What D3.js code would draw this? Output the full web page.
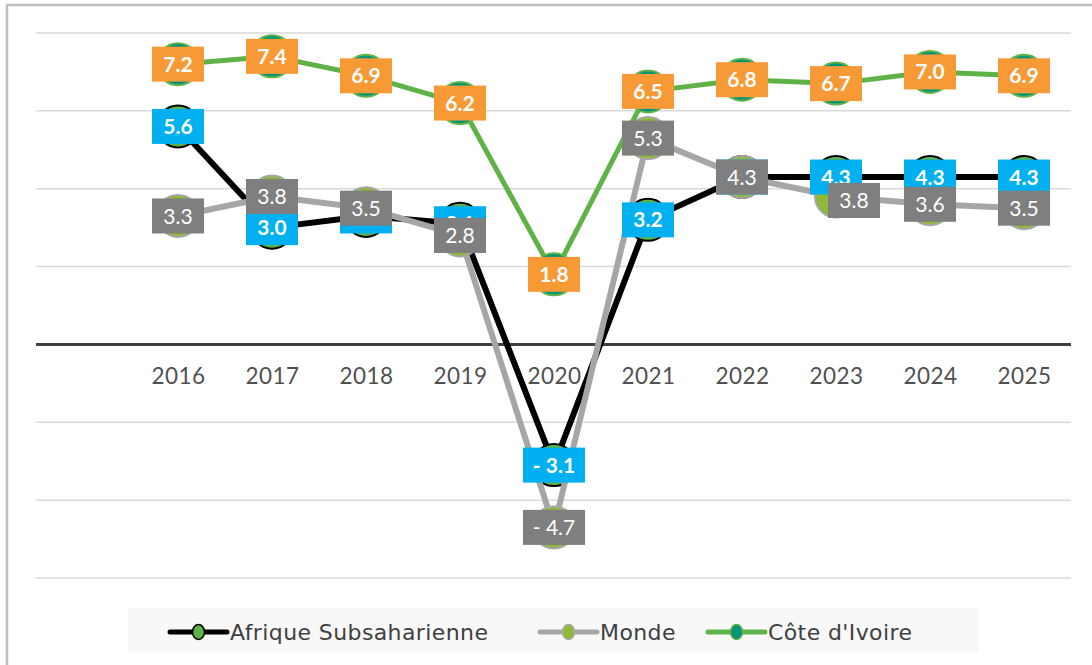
<!DOCTYPE html>
<html lang="fr">
  <head>
    <meta charset="UTF-8" />
    <script src="https://cdn.jsdelivr.net/npm/d3@7/dist/d3.min.js"></script>
    <style>
      body {
        margin: 0;
        background: #ffffff;
      }
      svg {
        display: block;
        font-family: Lato, "Noto Sans", sans-serif;
      }
    </style>
  </head>
  <body>
    <div id="chart"></div>
    <script>
      // data
      const years = ["2016", "2017", "2018", "2019", "2020", "2021", "2022", "2023", "2024", "2025"];
      const ssa = [5.6, 3.0, 3.3, 3.1, -3.1, 3.2, 4.3, 4.3, 4.3, 4.3];
      const monde = [3.3, 3.8, 3.5, 2.8, -4.7, 5.3, 4.3, 3.8, 3.6, 3.5];
      const civ = [7.2, 7.4, 6.9, 6.2, 1.8, 6.5, 6.8, 6.7, 7.0, 6.9];
      const seriesNames = ["Afrique Subsaharienne", "Monde", "Côte d'Ivoire"];
      const yTicks = [-6, -4, -2, 0, 2, 4, 6, 8];

      const width = 1092;
      const height = 665;

      const styles = [
        { line: "#000000", fill: "#5fb346", stroke: "#000000", label: "#00b0f0", bold: true },
        { line: "#a6a6a6", fill: "#8dba38", stroke: "#a6a6a6", label: "#7f7f7f", bold: false },
        { line: "#5fb346", fill: "#009479", stroke: "#5fb346", label: "#f79a35", bold: true },
      ];

      // small shift of a label where Excel moved it aside
      const labelNudge = { "1-2023": [18, 4] };

      const series = [ssa, monde, civ].map((vals, i) => ({
        name: seriesNames[i],
        style: styles[i],
        idx: i,
        values: vals.map((v, j) => ({ year: years[j], value: v })),
      }));

      const x = d3.scalePoint().domain(years).range([131, 1071]).padding(0.5);
      const y = d3.scaleLinear().domain([-6, 8]).range([578, 33]);

      const svg = d3
        .select("#chart")
        .append("svg")
        .attr("width", width)
        .attr("height", height);

      svg.append("rect").attr("width", width).attr("height", height).attr("fill", "#fff");

      // chart frame
      svg
        .append("rect")
        .attr("x", 7)
        .attr("y", 5)
        .attr("width", 1120)
        .attr("height", 700)
        .attr("fill", "none")
        .attr("stroke", "#bfbfbf")
        .attr("stroke-width", 2.5);

      // gridlines
      svg
        .append("g")
        .selectAll("line")
        .data(yTicks.filter((d) => d !== 0))
        .join("line")
        .attr("x1", 36)
        .attr("x2", 1071)
        .attr("y1", (d) => y(d))
        .attr("y2", (d) => y(d))
        .attr("stroke", "#d9d9d9")
        .attr("stroke-width", 1.5);

      // zero axis + category labels
      const xAxis = svg
        .append("g")
        .attr("transform", `translate(0,${y(0)})`)
        .call(d3.axisBottom(x).tickSize(0).tickPadding(24));
      xAxis.select(".domain").remove();
      xAxis
        .append("line")
        .attr("x1", 36)
        .attr("x2", 1071)
        .attr("stroke", "#404040")
        .attr("stroke-width", 3);
      xAxis
        .selectAll(".tick text")
        .attr("font-family", "Lato, sans-serif")
        .attr("font-size", 22.5)
        .attr("letter-spacing", 0.5)
        .attr("fill", "#505050");

      const line = d3
        .line()
        .x((d) => x(d.year))
        .y((d) => y(d.value));

      // lines and markers, series by series
      series.forEach((s) => {
        const g = svg.append("g");
        g.append("path")
          .datum(s.values)
          .attr("d", line)
          .attr("fill", "none")
          .attr("stroke", s.style.line)
          .attr("stroke-width", s.idx === 2 ? 5 : 6)
          .attr("stroke-linejoin", "round");
        g.selectAll("circle")
          .data(s.values)
          .join("circle")
          .attr("cx", (d) => x(d.year))
          .attr("cy", (d) => y(d.value))
          .attr("r", 21)
          .attr("fill", s.style.fill)
          .attr("stroke", s.style.stroke)
          .attr("stroke-width", 2);
      });

      // data labels
      const fmt = (v) => (v < 0 ? "- " + d3.format(".1f")(-v) : d3.format(".1f")(v));
      series.forEach((s) => {
        const lab = svg
          .append("g")
          .selectAll("g")
          .data(s.values)
          .join("g")
          .attr("transform", (d) => {
            const n = labelNudge[s.idx + "-" + d.year] || [0, 0];
            return `translate(${x(d.year) + n[0]},${y(d.value) + n[1]})`;
          });
        lab
          .append("rect")
          .attr("x", (d) => (d.value < 0 ? -31 : -26))
          .attr("y", -17.5)
          .attr("width", (d) => (d.value < 0 ? 62 : 52))
          .attr("height", 35)
          .attr("fill", s.style.label);
        lab
          .append("text")
          .attr("text-anchor", "middle")
          .attr("dy", "0.36em")
          .attr("fill", "#fff")
          .attr("font-size", 21)
          .attr("font-weight", s.style.bold ? 700 : 400)
          .text((d) => fmt(d.value));
      });

      // legend
      const legend = svg.append("g");
      legend
        .append("rect")
        .attr("x", 128)
        .attr("y", 608)
        .attr("width", 850)
        .attr("height", 44)
        .attr("fill", "#f8f8f8");

      const legendX = [170, 540, 708];
      const item = legend
        .selectAll(".item")
        .data(series)
        .join("g")
        .attr("class", "item")
        .attr("transform", (d, i) => `translate(${legendX[i]},632)`);
      item
        .append("line")
        .attr("x1", 0)
        .attr("x2", 57)
        .attr("stroke", (d) => d.style.line)
        .attr("stroke-width", 5)
        .attr("stroke-linecap", "round");
      item
        .append("ellipse")
        .attr("cx", 28.5)
        .attr("rx", 6)
        .attr("ry", 7.5)
        .attr("fill", (d) => d.style.fill)
        .attr("stroke", (d) => d.style.stroke)
        .attr("stroke-width", 1.5);
      item
        .append("text")
        .attr("x", 60)
        .attr("dy", "0.36em")
        .attr("font-family", "'DejaVu Sans', sans-serif")
        .attr("font-size", 22)
        .attr("letter-spacing", 0.4)
        .attr("fill", "#404040")
        .text((d) => d.name);
    </script>
  </body>
</html>
